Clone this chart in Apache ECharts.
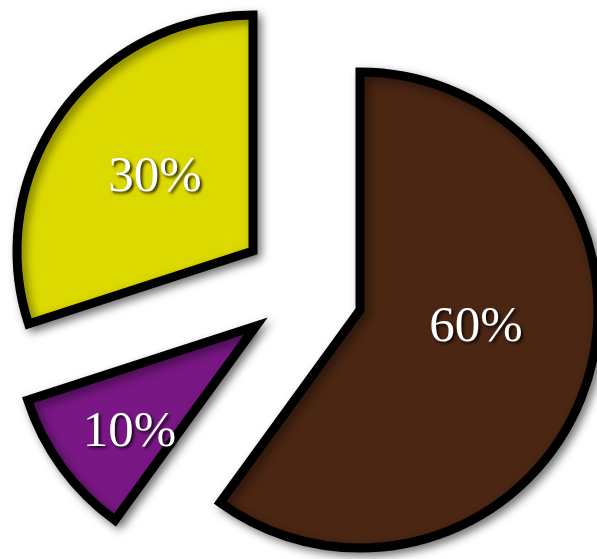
<!DOCTYPE html>
<html>
<head>
<meta charset="utf-8">
<script src="https://cdn.jsdelivr.net/npm/echarts@6/dist/echarts.min.js"></script>
<style>
html,body{margin:0;padding:0;background:#ffffff;}
#chart{width:597px;height:559px;}
</style>
</head>
<body>
<div id="chart"></div>
<script>
// Data
const categories = ['Brown', 'Purple', 'Yellow'];
const values = [60, 10, 30];
const colors = ['#4a2613', '#791784', '#dcd900'];

// Layout per exploded slice (apex position, radius, label nudge)
const centers = [[360, 310], [256, 326], [253, 251]];
const radii = [238, 240, 236];
const labelNudge = [[0, -20], [-27, 34], [0, -2]];

const chart = echarts.init(document.getElementById('chart'));

const series = categories.map(function (name, i) {
  return {
    type: 'pie',
    center: centers[i],
    radius: [0, radii[i]],
    startAngle: 90,
    clockwise: true,
    silent: true,
    animation: false,
    labelLayout: { dx: labelNudge[i][0], dy: labelNudge[i][1] },
    data: categories.map(function (n, j) {
      if (j === i) {
        return {
          name: n,
          value: values[j],
          itemStyle: {
            color: colors[j],
            borderColor: '#000000',
            borderWidth: 9,
            borderJoin: 'miter',
            shadowBlur: 10,
            shadowColor: 'rgba(0,0,0,0.45)',
            shadowOffsetX: 4,
            shadowOffsetY: 4
          },
          label: {
            show: true,
            position: 'inside',
            formatter: '{c}%',
            color: '#ffffff',
            fontFamily: 'Liberation Serif',
            fontSize: 51,
            textShadowColor: 'rgba(0,0,0,0.85)',
            textShadowBlur: 3,
            textShadowOffsetX: 2,
            textShadowOffsetY: 2
          }
        };
      }
      return {
        name: n,
        value: values[j],
        itemStyle: { color: 'rgba(0,0,0,0)', borderWidth: 0 },
        label: { show: false },
        labelLine: { show: false }
      };
    })
  };
});

chart.setOption({
  backgroundColor: '#ffffff',
  series: series
});
</script>
</body>
</html>
